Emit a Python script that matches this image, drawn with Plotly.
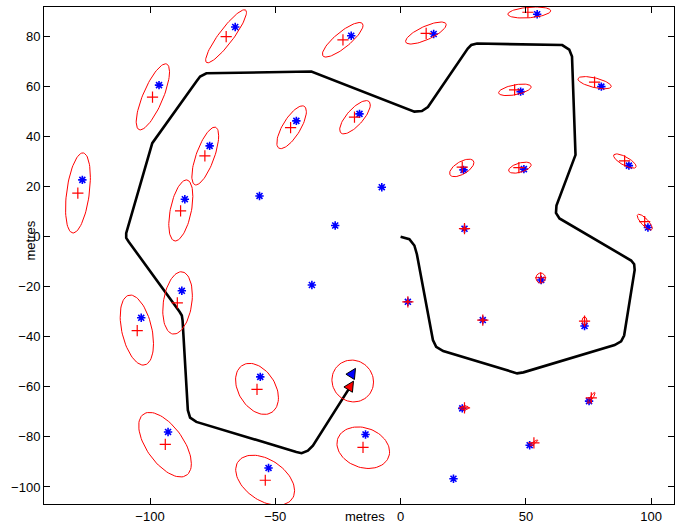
import numpy as np
import plotly.graph_objects as go

# True landmark positions (blue asterisks)
lm_true_x = [-127.0, -96.4, -76.2, -86.1, -66.0, -19.7, 13.2, -41.6, -16.4, -56.3, -7.5, -26.1,
             54.5, 47.9, 80.1, 25.1, 49.2, 91.1, 98.7, 25.5, -87.3, -103.5, -92.8, -35.4, 2.9,
             -56.0, -14.0, -52.7, 56.1, 32.8, 73.4, 24.6, 75.2, 51.5, 21.1]
lm_true_y = [22.7, 60.6, 36.3, 15.0, 83.8, 80.3, 81.0, 46.3, 49.1, 16.3, 19.8, 4.5,
             88.9, 58.0, 60.0, 26.7, 27.0, 28.4, 3.7, 3.2, -21.6, -32.4, -78.0, -19.3, -26.0,
             -56.0, -79.0, -92.4, -17.3, -33.3, -35.7, -68.6, -65.7, -83.3, -96.7]

# Estimated landmark positions (red plus) and their covariance (sx, sy, rho)
est_x = [-128.8, -99.0, -78.1, -87.8, -69.6, -23.0, 10.2, -43.9, -18.4,
         50.8, 45.5, 77.4, 24.6, 47.2, 89.4, 97.4, 25.5, -89.1, -105.1, -93.9, 2.9,
         -57.3, -15.0, -54.0, 55.9, 32.8, 73.4, 25.5, 76.1, 53.2]
est_y = [17.4, 55.8, 32.3, 10.3, 80.0, 78.7, 81.3, 43.6, 47.8,
         89.7, 58.7, 61.8, 27.8, 27.6, 30.3, 6.0, 3.2, -26.4, -37.5, -83.0, -26.0,
         -61.0, -84.2, -97.3, -16.4, -33.3, -33.7, -68.4, -64.4, -82.4]
ell_cx = [-128.75, -98.85, -77.95, -87.7, -69.65, -23.1, 10.1, -43.5, -18.2,
          51.35, 45.6, 77.4, 24.4, 47.6, 89.5, 97.45, 25.5, -89.0, -105.25, -94.0, 2.9,
          -57.3, -14.9, -54.05, 55.9, 32.8, 73.4, 25.5, 76.1, 53.2]
ell_cy = [17.5, 55.9, 32.25, 10.5, 80.1, 78.7, 81.4, 43.75, 47.75,
          89.6, 58.7, 61.55, 27.5, 27.6, 30.25, 5.85, 3.2, -26.45, -37.3, -83.1, -26.0,
          -60.8, -84.3, -97.3, -16.5, -33.3, -33.7, -68.4, -64.4, -82.4]
ell_sx = [4.95, 6.65, 5.35, 4.8, 8.15, 8.1, 8.1, 5.9, 6.1,
          8.55, 6.5, 6.65, 4.85, 4.5, 4.5, 3.0, 0.8, 5.9, 6.65, 10.5, 0.6,
          8.55, 10.5, 11.75, 1.9, 0.7, 1.0, 1.7, 1.5, 1.55]
ell_sy = [16.0, 13.2, 11.55, 12.2, 10.6, 6.9, 4.4, 8.55, 6.65,
          2.2, 2.3, 2.45, 3.5, 2.2, 2.85, 3.15, 0.8, 12.45, 14.0, 12.9, 0.6,
          10.2, 8.3, 10.0, 2.0, 0.7, 1.7, 0.8, 2.2, 1.2]
ell_rho = [0.39, 0.76, 0.70, 0.46, 0.90, 0.83, 0.75, 0.73, 0.74,
           0.3, 0.5, -0.6, 0.6, 0.5, -0.75, -0.8, 0.0, 0.25, -0.39, -0.59, 0.0,
           -0.35, -0.2, -0.42, 0.0, 0.0, 0.0, 0.1, 0.9, 0.9]

# Vehicle path
path_x = [0, 3.5, 5.5, 6.5, 12.9, 14.2, 17.0, 44.0, 46.5, 49.0, 85.4, 88.0, 89.2, 93.4, 93.2, 92.0,
          63.4, 62.0, 62.2, 69.8, 68.4, 67.3, 64.5, 30.5, 28.2, 26.8, 10.9, 8.5, 5.5, -35.6, -77.5,
          -80.0, -81.5, -99.1, -109.5, -109.5, -108.5, -88.2, -87.3, -87.0, -84.9, -84.0, -81.5,
          -41.6, -39.5, -37.0, -35.0, -19.5]
path_y = [0, -1.0, -3.5, -7.0, -41.3, -44.0, -45.7, -54.0, -54.6, -54.2, -43.3, -41.8, -39.5, -13.3,
          -11.0, -9.5, 7.3, 9.5, 12.5, 32.7, 72.0, 74.8, 76.6, 77.2, 76.6, 75.2, 51.8, 50.2, 50.0,
          66.0, 65.3, 64.0, 62.0, 37.4, 1.4, -0.5, -2.0, -30.0, -31.5, -33.5, -69.3, -72.3, -74.0,
          -86.0, -86.5, -85.5, -83.5, -59.0]

# Vehicle poses (x, y, heading deg) and estimated vehicle covariance
veh_true = (-18.0, -52.6, 58.0)
veh_est = (-18.8, -57.7, 58.0)
veh_cov = (-19.1, -57.65, 8.3, 8.35, -0.05)

t = np.linspace(0, 2 * np.pi, 80)
ex, ey = [], []
for cx, cy, sx, sy, r in list(zip(ell_cx, ell_cy, ell_sx, ell_sy, ell_rho)) + [veh_cov]:
    ex += list(cx + sx * np.cos(t)) + [None]
    ey += list(cy + sy * (r * np.cos(t) + np.sqrt(1 - r * r) * np.sin(t))) + [None]


def tri(pose, L=4.0, W=2.0):
    x, y, h = pose
    a = np.deg2rad(h)
    pts = np.array([[0, 0], [-L, -W], [-L, W], [0, 0]])
    c, s = np.cos(a), np.sin(a)
    X = x + pts[:, 0] * c - pts[:, 1] * s
    Y = y + pts[:, 0] * s + pts[:, 1] * c
    return X, Y


fig = go.Figure()
fig.add_trace(go.Scatter(x=lm_true_x, y=lm_true_y, mode="markers", hoverinfo="skip",
                         marker=dict(symbol="asterisk-open", size=7, color="#0000ff",
                                     line=dict(color="#0000ff", width=1.6))))
fig.add_trace(go.Scatter(x=path_x, y=path_y, mode="lines", hoverinfo="skip",
                         line=dict(color="black", width=2.6)))
fig.add_trace(go.Scatter(x=ex, y=ey, mode="lines", hoverinfo="skip",
                         line=dict(color="#ff0000", width=1)))
fig.add_trace(go.Scatter(x=est_x, y=est_y, mode="markers", hoverinfo="skip",
                         marker=dict(symbol="cross-thin-open", size=8, color="#ff0000",
                                     line=dict(color="#ff0000", width=1.2))))
for pose, col in [(veh_true, "#0000ff"), (veh_est, "#ff0000")]:
    X, Y = tri(pose)
    fig.add_trace(go.Scatter(x=X, y=Y, mode="lines", fill="toself", fillcolor=col, hoverinfo="skip",
                             line=dict(color="black", width=1)))

axis_common = dict(showgrid=False, zeroline=False, ticks="inside", ticklen=6, tickwidth=1,
                   tickcolor="black", showline=True, linecolor="black", linewidth=1,
                   mirror="allticks", automargin=False,
                   tickfont=dict(family="Liberation Sans, Arial", size=13, color="black"))
fig.update_xaxes(range=[-142.3, 109.1], tickvals=[-100, -50, 0, 50, 100], **axis_common)
fig.update_yaxes(range=[-106.8, 91.8], tickvals=list(range(-100, 81, 20)), **axis_common)

fig.add_annotation(text="metres", xref="paper", yref="paper", x=(365 - 44) / 630, y=(504 - 516) / 497,
                   showarrow=False, xanchor="center", yanchor="middle",
                   font=dict(family="Liberation Sans, Arial", size=13, color="black"))
fig.add_annotation(text="metres", xref="paper", yref="paper", x=(29.5 - 44) / 630, y=(504 - 241) / 497,
                   showarrow=False, xanchor="center", yanchor="middle", textangle=-90,
                   font=dict(family="Liberation Sans, Arial", size=13, color="black"))

fig.update_layout(width=686, height=525, showlegend=False, plot_bgcolor="white",
                  paper_bgcolor="white", hovermode=False,
                  margin=dict(l=44, r=12, t=7, b=21, autoexpand=False))
fig.write_html("out.html", config={"displayModeBar": False},
               post_script="document.body.style.margin='0px';document.body.style.padding='0px';")
